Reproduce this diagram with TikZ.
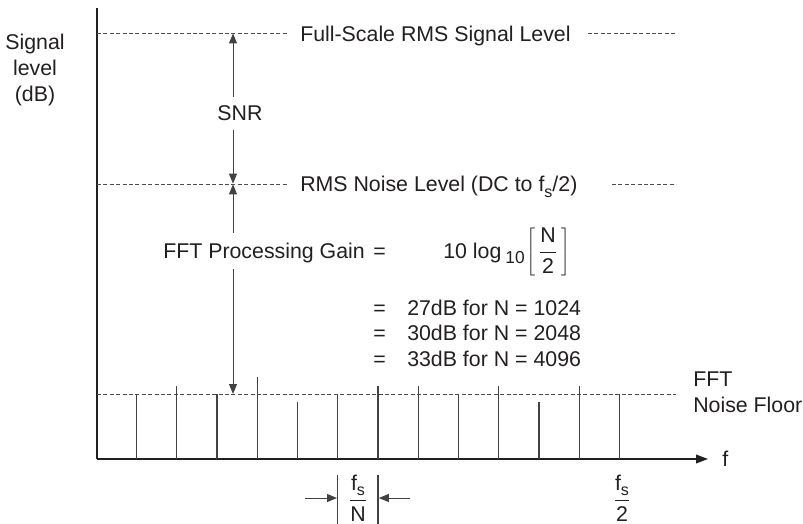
\documentclass[tikz,border=0pt]{standalone}
\usepackage{fontspec}
\setmainfont{Liberation Sans}
\usetikzlibrary{arrows.meta}
\definecolor{ink}{HTML}{231F20}
\newcommand{\lowsub}[2][12]{\raisebox{-0.45ex}{\fontsize{#1}{#1}\selectfont #2}}
\tikzset{
  txt/.style={font=\fontsize{16}{19.5}\selectfont, text=ink, inner sep=0pt},
  axisline/.style={line width=1.1pt, draw=ink},
  spec/.style={line width=0.9pt, draw=ink!85},
  guide/.style={line width=0.55pt, draw=ink!80, dash pattern=on 3pt off 1.8pt},
  dim/.style={line width=0.75pt, draw=ink!85, -{Triangle[length=7.5pt,width=6pt]}},
}
\begin{document}
\begin{tikzpicture}[x=0.75pt,y=-0.75pt]
\useasboundingbox (0,0) rectangle (803,524);
% axes
\coordinate (ytop) at (97,8);
\coordinate (O) at (97,459);
\coordinate (xend) at (708,459);
\draw[axisline] (ytop) -- (O);
\draw[axisline, -{Triangle[length=9pt,width=6.5pt]}] (O) -- (xend);
\node[txt, anchor=west] (flab) at (722,459) {f};
\node[txt, align=center, anchor=north] (ylab) at (35,34) {Signal\\level\\(dB)};

% full-scale level
\node[txt, anchor=base west] (fslbl) at (300,42) {Full-Scale RMS Signal Level};
\coordinate (fsA) at (97,33); \coordinate (fsB) at (288,33);
\coordinate (fsC) at (588,33); \coordinate (fsD) at (676,33);
\draw[guide] (fsA) -- (fsB);
\draw[guide] (fsC) -- (fsD);

% rms noise level
\node[txt, anchor=base west] (rmslbl) at (300,192) {RMS Noise Level (DC to f\lowsub{s}/2)};
\coordinate (rmA) at (97,184); \coordinate (rmB) at (288,184);
\coordinate (rmC) at (612,184); \coordinate (rmD) at (676,184);
\draw[guide] (rmA) -- (rmB);
\draw[guide] (rmC) -- (rmD);

% FFT noise floor
\coordinate (nfA) at (97,394); \coordinate (nfB) at (676,394);
\draw[guide] (nfA) -- (nfB);
\node[txt, align=left, anchor=north west] (nflbl) at (693,372) {FFT\\Noise Floor};

% SNR arrow
\node[txt, anchor=base] (snr) at (240,121) {SNR};
\coordinate (s1) at (233,97); \coordinate (s2) at (233,130);
\coordinate (fsT) at (233,33.5); \coordinate (rmT) at (233,183.6);
\draw[dim] (s1) -- (fsT);
\draw[dim] (s2) -- (rmT);

% processing gain arrow
\node[txt, anchor=base west] (gain) at (163,258) {FFT Processing Gain\hspace{6.5pt}=};
\coordinate (g1) at (233,233); \coordinate (g2) at (233,269);
\coordinate (rmU) at (233,184.4); \coordinate (nfT) at (233,394);
\draw[dim] (g1) -- (rmU);
\draw[dim] (g2) -- (nfT);

\node[txt, anchor=base west] (plog) at (443,258)
  {10 log\hspace{3pt}\lowsub[13]{10}\hspace{1pt}$\left[\,\displaystyle\frac{\mbox{N}}{\mbox{2}}\,\right]$};

\node[txt, anchor=base west] (eqA) at (373,315) {=};
\node[txt, anchor=base west] (vA) at (407,315) {27dB for N = 1024};
\node[txt, anchor=base west] (eqB) at (373,340) {=};
\node[txt, anchor=base west] (vB) at (407,340) {30dB for N = 2048};
\node[txt, anchor=base west] (eqC) at (373,366) {=};
\node[txt, anchor=base west] (vC) at (407,366) {33dB for N = 4096};

% spectral lines
\foreach \i/\t in {0/394,1/386,2/394,3/377,4/402,5/394,6/386,7/386,8/394,9/386,10/402,11/386,12/394}{
  \draw[spec] ({136.5+40.25*\i},459) -- ({136.5+40.25*\i},\t);
}

% bin width marker
\coordinate (bL) at (337.75,475); \coordinate (bLb) at (337.75,524);
\coordinate (bR) at (378,475); \coordinate (bRb) at (378,524);
\draw[spec] (bL) -- (bLb);
\draw[spec] (bR) -- (bRb);
\coordinate (aL) at (305,498); \coordinate (aLt) at (337,498);
\coordinate (aR) at (410,498); \coordinate (aRt) at (378.8,498);
\draw[dim] (aL) -- (aLt);
\draw[dim] (aR) -- (aRt);
\node[txt] (fsn) at (358,498) {$\displaystyle\frac{\mbox{f\lowsub{s}}}{\mbox{N}}$};
\node[txt] (fs2) at (622,498) {$\displaystyle\frac{\mbox{f\lowsub{s}}}{\mbox{2}}$};
\end{tikzpicture}
\end{document}
